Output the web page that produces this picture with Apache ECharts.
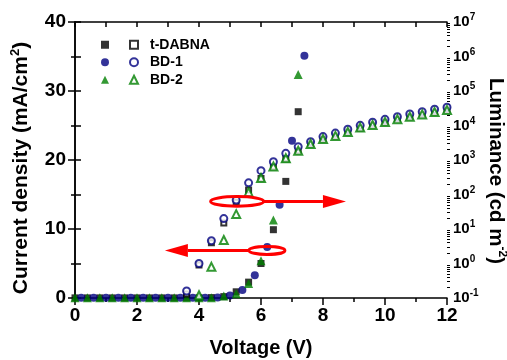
<!DOCTYPE html>
<html>
<head>
<meta charset="utf-8">
<script src="https://cdn.jsdelivr.net/npm/echarts@6/dist/echarts.min.js"></script>
<style>html,body{margin:0;padding:0;background:#fff;}#c{width:507px;height:360px;}</style>
</head>
<body>
<div id="c"></div>
<script>
// ---- data ----
const voltageL = [0,0.4,0.8,1.2,1.6,2.0,2.4,2.8,3.2,3.6,4.0,4.4,4.8,5.2,5.6,6.0,6.4,6.8,7.2,7.6,8.0,8.4,8.8,9.2,9.6,10.0,10.4,10.8,11.2,11.6,12.0];
const voltageJ = [0,0.4,0.8,1.2,1.6,2.0,2.4,2.8,3.2,3.6,4.0,4.4,4.8,5.2,5.6,6.0,6.4,6.8,7.2];
const voltageJBD1 = [0.2,0.6,1.0,1.4,1.8,2.2,2.6,3.0,3.4,3.8,4.2,4.6,5.0,5.4,5.8,6.2,6.6,7.0,7.4];
const jTDABNA = [0.02,0.02,0.02,0.02,0.02,0.02,0.02,0.02,0.02,0.03,0.04,0.06,0.2,0.9,2.3,5.0,9.9,16.9,27.0];
const jBD1 = [0.02,0.02,0.02,0.02,0.02,0.02,0.02,0.02,0.02,0.02,0.03,0.08,0.35,1.16,3.3,7.4,13.5,22.8,35.1];
const jBD2 = [0.02,0.02,0.02,0.02,0.02,0.02,0.02,0.02,0.02,0.03,0.04,0.05,0.3,0.6,2.1,5.4,11.3,20.3,32.4];
const lumTDABNA = [null,null,null,null,null,null,null,null,null,0.13,0.9,4.0,15,60,135,290,640,1100,1850,2850,4000,5000,6500,8500,10300,12600,15100,18000,21000,24500,28000];
const lumBD1 = [null,null,null,null,null,null,null,null,null,0.16,1.0,4.6,20,69,218,490,890,1560,2440,3400,4760,6030,7780,10100,12400,15100,18000,21500,25100,29500,33800];
const lumBD2 = [null,null,null,null,null,null,null,null,null,null,0.12,0.8,4.8,27,117,302,646,1120,1860,2900,4070,5000,6500,8700,10300,12600,15100,18000,21000,24500,28000];
const seriesNames = ['t-DABNA','BD-1','BD-2'];
const lumTickValues = [0.1,1,10,100,1000,10000,100000,1000000,10000000];
const lumMinorTicks = [];
lumTickValues.slice(0,-1).forEach(d => { [2,3,4,5,6,7,8,9].forEach(m => lumMinorTicks.push(d*m)); });

// ---- styles ----
const FONT = 'Liberation Sans';
const NAVY = '#000080', GREEN = '#008000', BLACK = '#000000';
const axisLine = {show:true, lineStyle:{color:'#000', width:1.5}};
const pairs = (xs, ys) => xs.map((x,i) => [x, ys[i]]);

const chart = echarts.init(document.getElementById('c'), null, {renderer:'canvas'});
const option = {
  backgroundColor:'#fff',
  animation:false,
  textStyle:{fontFamily:FONT},
  grid:{left:75, right:60, top:22, bottom:62, containLabel:false, outerBoundsMode:'none'},
  legend:[
    {data:['J t-DABNA','J BD-1','J BD-2'], orient:'vertical', left:96, top:31,
     itemWidth:8, itemHeight:8, itemGap:0, formatter:()=>' ',
     textStyle:{fontFamily:FONT, fontSize:14, fontWeight:'bold', lineHeight:17.5}},
    {data:seriesNames, orient:'vertical', left:124, top:31,
     itemWidth:8, itemHeight:8, itemGap:0,
     textStyle:{fontFamily:FONT, fontSize:14, fontWeight:'bold', color:'#000', lineHeight:17.5, padding:[0,0,0,7]}}
  ],
  xAxis:[
    {type:'value', min:0, max:12, interval:2, position:'bottom',
     name:'Voltage (V)', nameLocation:'middle', nameGap:40,
     nameTextStyle:{fontFamily:FONT, fontSize:20, fontWeight:'bold', color:'#000'},
     axisLine:axisLine, axisTick:{show:true, inside:false, length:7, lineStyle:{color:'#000', width:1.5}},
     minorTick:{show:true, splitNumber:2, length:4, lineStyle:{color:'#000', width:1.5}},
     axisLabel:{color:'#000', fontFamily:FONT, fontSize:19, fontWeight:'bold', margin:8},
     splitLine:{show:false}},
    {type:'value', min:0, max:12, interval:1, position:'top',
     axisLine:axisLine, axisTick:{show:true, inside:true, length:5, lineStyle:{color:'#000', width:1.5}},
     axisLabel:{show:false}, splitLine:{show:false}}
  ],
  yAxis:[
    {type:'value', min:0, max:40, interval:10, position:'left',
     name:'Current density (mA/cm{sup|2})', nameLocation:'middle', nameGap:30, nameRotate:90,
     nameTextStyle:{fontFamily:FONT, fontSize:21, fontWeight:'bold', color:'#000', lineHeight:25, padding:[0,16,0,0],
       rich:{sup:{fontFamily:FONT, fontSize:13, fontWeight:'bold', color:'#000', verticalAlign:'top', lineHeight:13}}},
     axisLine:axisLine, axisTick:{show:true, inside:false, length:7, lineStyle:{color:'#000', width:1.5}},
     minorTick:{show:true, splitNumber:2, length:4, lineStyle:{color:'#000', width:1.5}},
     axisLabel:{color:'#000', fontFamily:FONT, fontSize:19, fontWeight:'bold', margin:9},
     splitLine:{show:false}},
    {type:'log', logBase:10, min:0.1, max:10000000, position:'right',
     name:'Luminance (cd m{sup|-2})', nameLocation:'middle', nameGap:37, nameRotate:-90, nameMoveOverlap:false,
     nameTextStyle:{fontFamily:FONT, fontSize:20.5, fontWeight:'bold', color:'#000', lineHeight:24, padding:[0,0,0,22],
       rich:{sup:{fontFamily:FONT, fontSize:12, fontWeight:'bold', color:'#000', verticalAlign:'top', lineHeight:12}}},
     axisLine:axisLine,
     axisTick:{show:true, inside:false, length:6, customValues:lumTickValues, lineStyle:{color:'#000', width:1.5}},
     axisLabel:{customValues:lumTickValues, margin:6,
       formatter:(v)=>'{b|10}{s|' + Math.round(Math.log10(v)) + '}',
       rich:{b:{fontFamily:FONT, fontSize:15, fontWeight:'bold', color:'#000', lineHeight:19},
             s:{fontFamily:FONT, fontSize:10, fontWeight:'bold', color:'#000', verticalAlign:'top', lineHeight:10}}},
     splitLine:{show:false}},
    {type:'log', logBase:10, min:0.1, max:10000000, position:'right',
     axisLine:{show:false},
     axisTick:{show:true, inside:false, length:3, customValues:lumMinorTicks, lineStyle:{color:'#000', width:1}},
     axisLabel:{show:false}, splitLine:{show:false}}
  ],
  series:[
    {name:'J t-DABNA', type:'scatter', xAxisIndex:0, yAxisIndex:0, symbol:'rect', symbolSize:7,
     itemStyle:{color:BLACK}, data:pairs(voltageJ, jTDABNA)},
    {name:'J BD-1', type:'scatter', xAxisIndex:0, yAxisIndex:0, symbol:'circle', symbolSize:8,
     itemStyle:{color:NAVY}, data:pairs(voltageJBD1, jBD1)},
    {name:'J BD-2', type:'scatter', xAxisIndex:0, yAxisIndex:0, symbol:'triangle', symbolSize:9,
     itemStyle:{color:GREEN}, data:pairs(voltageJ, jBD2)},
    {name:'t-DABNA', type:'scatter', xAxisIndex:0, yAxisIndex:1, symbol:'emptyRect', symbolSize:5,
     itemStyle:{color:BLACK, borderWidth:1.5}, data:pairs(voltageL, lumTDABNA)},
    {name:'BD-1', type:'scatter', xAxisIndex:0, yAxisIndex:1, symbol:'emptyCircle', symbolSize:7,
     itemStyle:{color:NAVY, borderWidth:1.6}, data:pairs(voltageL, lumBD1)},
    {name:'BD-2', type:'scatter', xAxisIndex:0, yAxisIndex:1, symbol:'emptyTriangle', symbolSize:8,
     itemStyle:{color:GREEN, borderWidth:1.5}, data:pairs(voltageL, lumBD2)}
  ]
};
chart.setOption(option);

// ---- annotations (anchored in data space) ----
const annot = [
  {center:[5.23, 14.0], rx:26.5, ry:4.8, tip:8.74, dir:1},
  {center:[6.19, 6.9], rx:18, ry:4, tip:2.9, dir:-1}
];
const gfx = [];
annot.forEach(a => {
  const c = chart.convertToPixel({xAxisIndex:0, yAxisIndex:0}, a.center);
  const tipX = chart.convertToPixel({xAxisIndex:0}, a.tip);
  const startX = c[0] + a.dir * a.rx;
  const headLen = 23, headHalf = 6.5;
  gfx.push({type:'ellipse', shape:{cx:c[0], cy:c[1], rx:a.rx, ry:a.ry},
            style:{fill:null, stroke:'#ff0000', lineWidth:3}, z:10});
  gfx.push({type:'line', shape:{x1:startX, y1:c[1], x2:tipX - a.dir*headLen, y2:c[1]},
            style:{stroke:'#ff0000', lineWidth:3}, z:10});
  gfx.push({type:'polygon', shape:{points:[[tipX, c[1]], [tipX - a.dir*headLen, c[1]-headHalf], [tipX - a.dir*headLen, c[1]+headHalf]]},
            style:{fill:'#ff0000'}, z:10});
});
chart.setOption({graphic:gfx});
</script>
</body>
</html>
